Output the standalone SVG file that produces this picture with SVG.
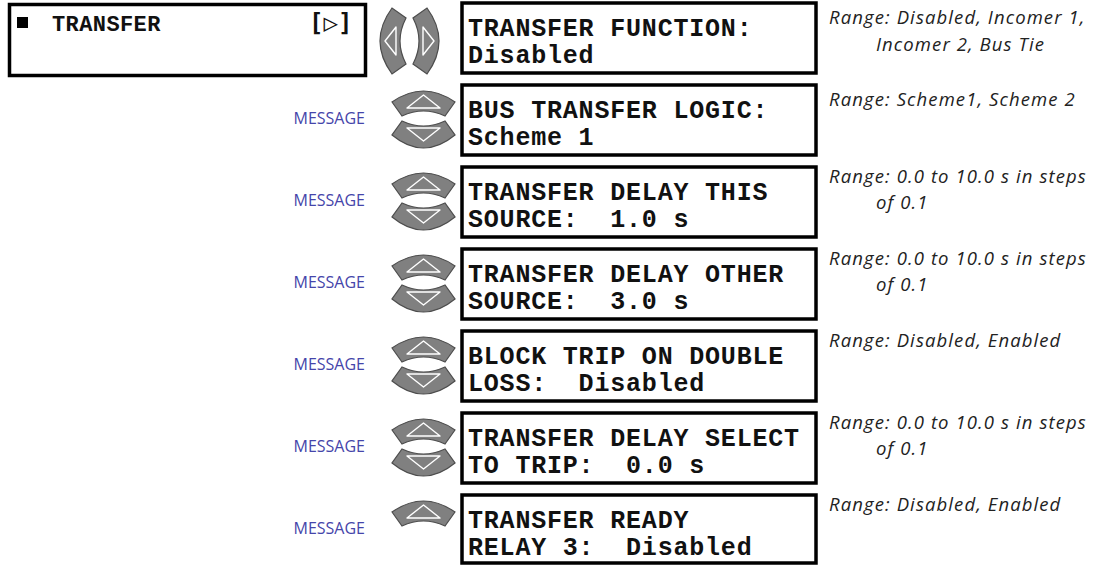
<svg xmlns="http://www.w3.org/2000/svg" xmlns:xlink="http://www.w3.org/1999/xlink" width="1106" height="565" viewBox="0 0 1106 565">
<style>
.box{fill:#fff;stroke:#000;stroke-width:3.5}
.lcd{font-family:"Courier New","Liberation Mono",monospace;font-weight:bold;font-size:25px;letter-spacing:0.8px;fill:#111;white-space:pre}
.big{font-family:"Courier New","Liberation Mono",monospace;font-weight:bold;font-size:22px;letter-spacing:0.4px;fill:#111}
.sym{font-family:"DejaVu Sans Mono","Liberation Mono",monospace;font-weight:bold;font-size:24px;fill:#111}
.msg{font-family:"Open Sans","Noto Sans",sans-serif;font-size:16px;fill:#4545aa}
.rng{font-family:"Open Sans","Noto Sans",sans-serif;font-style:italic;font-size:18.5px;letter-spacing:1.1px;fill:#222}
.key{fill:#808080;stroke:#4d4d4d;stroke-width:1.2}
.tri{fill:none;stroke:#fff;stroke-width:1.4;stroke-linejoin:round}
</style>
<defs>
<g id="upkey">
<path class="key" d="M392,17 Q423.5,-5 455,17 L445,31 Q423.5,21 402,31 Z"/>
<path class="tri" d="M423.5,10 L440,23 L407,23 Z"/>
</g>
<g id="downkey">
<path class="key" d="M402,36 Q423.5,46 445,36 L455,50 Q423.5,76 392,50 Z"/>
<path class="tri" d="M407,43 L440,43 L423.5,56 Z"/>
</g>
</defs>

<g id="main">
<rect class="box" x="9.5" y="4.5" width="356" height="71"/>
<rect x="17" y="17" width="11" height="11" fill="#000"/>
<text class="big" x="52" y="31">TRANSFER</text>
<text class="sym" x="309" y="31">[▷]</text>
</g>

<g id="leftright">
<path class="key" d="M392,8 Q368,41 392,74 L406,64 Q394,41 406,18 Z"/>
<path class="tri" d="M385,41 L396,27 L396,55 Z"/>
<path class="key" d="M427,8 Q451,41 427,74 L413,64 Q425,41 413,18 Z"/>
<path class="tri" d="M434,41 L423,27 L423,55 Z"/>
</g>

<g id="row1">
<rect class="box" x="462" y="3" width="354" height="70"/>
<text class="lcd" x="468" y="36">TRANSFER FUNCTION:</text>
<text class="lcd" x="468" y="63">Disabled</text>
<text class="rng" x="829" y="24">Range: Disabled, Incomer 1,</text>
<text class="rng" x="876" y="51">Incomer 2, Bus Tie</text>
</g>

<g id="row2">
<text class="msg" x="365" y="124" text-anchor="end">MESSAGE</text>
<use xlink:href="#upkey" href="#upkey" y="85"/>
<use xlink:href="#downkey" href="#downkey" y="85"/>
<rect class="box" x="462" y="85" width="354" height="70"/>
<text class="lcd" x="468" y="118">BUS TRANSFER LOGIC:</text>
<text class="lcd" x="468" y="145">Scheme 1</text>
<text class="rng" x="829" y="106">Range: Scheme1, Scheme 2</text>
</g>

<g id="row3">
<text class="msg" x="365" y="206" text-anchor="end">MESSAGE</text>
<use xlink:href="#upkey" href="#upkey" y="167"/>
<use xlink:href="#downkey" href="#downkey" y="167"/>
<rect class="box" x="462" y="167" width="354" height="70"/>
<text class="lcd" x="468" y="200">TRANSFER DELAY THIS</text>
<text class="lcd" x="468" y="227">SOURCE:  1.0 s</text>
<text class="rng" x="829" y="183">Range: 0.0 to 10.0 s in steps</text>
<text class="rng" x="876" y="209">of 0.1</text>
</g>

<g id="row4">
<text class="msg" x="365" y="288" text-anchor="end">MESSAGE</text>
<use xlink:href="#upkey" href="#upkey" y="249"/>
<use xlink:href="#downkey" href="#downkey" y="249"/>
<rect class="box" x="462" y="249" width="354" height="70"/>
<text class="lcd" x="468" y="282">TRANSFER DELAY OTHER</text>
<text class="lcd" x="468" y="309">SOURCE:  3.0 s</text>
<text class="rng" x="829" y="265">Range: 0.0 to 10.0 s in steps</text>
<text class="rng" x="876" y="291">of 0.1</text>
</g>

<g id="row5">
<text class="msg" x="365" y="370" text-anchor="end">MESSAGE</text>
<use xlink:href="#upkey" href="#upkey" y="331"/>
<use xlink:href="#downkey" href="#downkey" y="331"/>
<rect class="box" x="462" y="331" width="354" height="70"/>
<text class="lcd" x="468" y="364">BLOCK TRIP ON DOUBLE</text>
<text class="lcd" x="468" y="391">LOSS:  Disabled</text>
<text class="rng" x="829" y="347">Range: Disabled, Enabled</text>
</g>

<g id="row6">
<text class="msg" x="365" y="452" text-anchor="end">MESSAGE</text>
<use xlink:href="#upkey" href="#upkey" y="413"/>
<use xlink:href="#downkey" href="#downkey" y="413"/>
<rect class="box" x="462" y="413" width="354" height="70"/>
<text class="lcd" x="468" y="446">TRANSFER DELAY SELECT</text>
<text class="lcd" x="468" y="473">TO TRIP:  0.0 s</text>
<text class="rng" x="829" y="429">Range: 0.0 to 10.0 s in steps</text>
<text class="rng" x="876" y="455">of 0.1</text>
</g>

<g id="row7">
<text class="msg" x="365" y="534" text-anchor="end">MESSAGE</text>
<use xlink:href="#upkey" href="#upkey" y="495"/>
<rect class="box" x="462" y="495" width="354" height="68"/>
<text class="lcd" x="468" y="528">TRANSFER READY</text>
<text class="lcd" x="468" y="555">RELAY 3:  Disabled</text>
<text class="rng" x="829" y="511">Range: Disabled, Enabled</text>
</g>

<g id="connectors"></g>
</svg>
